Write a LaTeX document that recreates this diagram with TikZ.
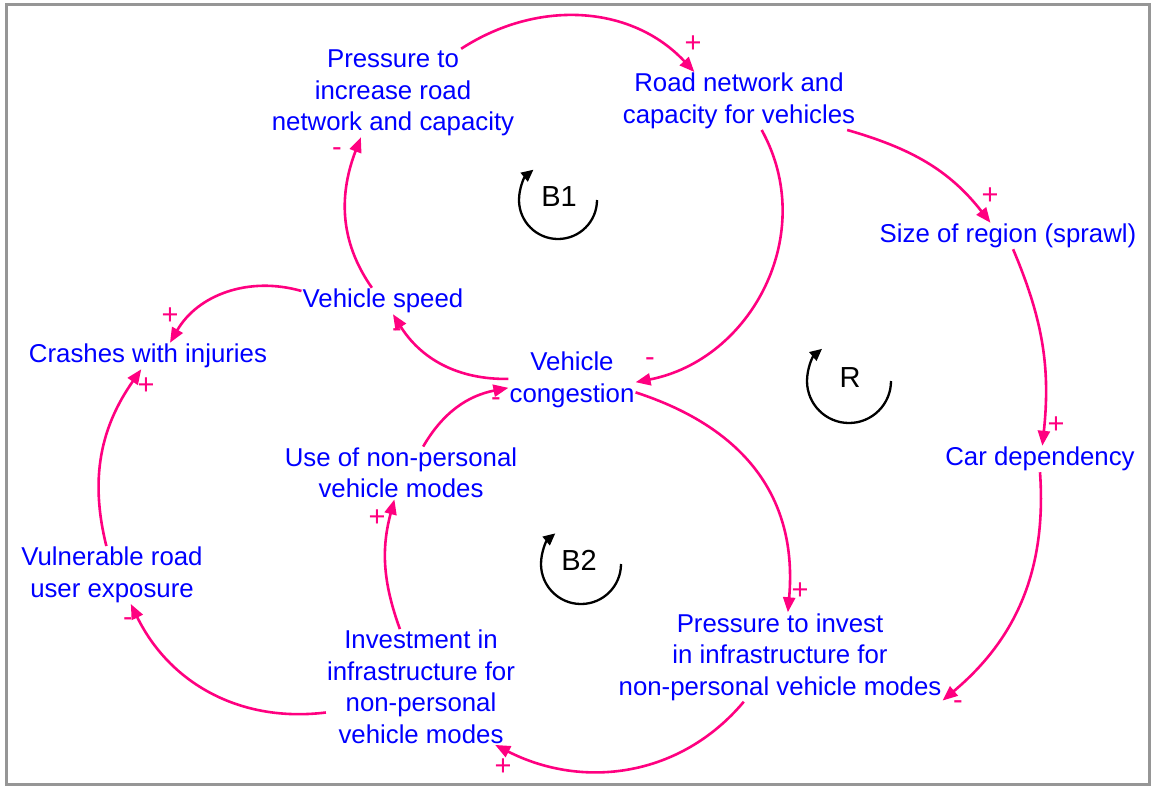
\documentclass[tikz,border=0pt]{standalone}
\usepackage{fontspec}
\setmainfont{Liberation Sans}
\usetikzlibrary{arrows.meta}
\definecolor{pinkc}{RGB}{255,0,128}
\definecolor{bluec}{RGB}{0,0,255}
\definecolor{framec}{RGB}{150,150,150}
\tikzset{
  var/.style={text=bluec, align=center, inner sep=1pt, yshift=-3pt, font=\fontsize{25.8}{31.5}\selectfont},
  link/.style={draw=pinkc, line width=2.6pt, -{Triangle[length=15pt,width=12pt]}},
  pol/.style={text=pinkc, inner sep=0pt, font=\fontsize{29}{29}\selectfont},
  looplbl/.style={text=black, inner sep=0pt, font=\fontsize{29}{31.5}\selectfont},
  looparc/.style={draw=black, line width=2.3pt, -{Triangle[length=12pt,width=11pt]}}
}
\begin{document}
\begin{tikzpicture}[x=1pt,y=1pt]
\useasboundingbox (0,0) rectangle (1153,-788);
\draw[framec, line width=3pt] (6,-4) rectangle (1149,-784);

% variables
\node[var] (pinc)  at (393,-90)  {Pressure to\\increase road\\network and capacity};
\node[var] (road)  at (739,-98)  {Road network and\\capacity for vehicles};
\node[var] (size)  at (1008,-233) {Size of region (sprawl)};
\node[var] (car)   at (1040,-456) {Car dependency};
\node[var] (pinv)  at (780,-654) {Pressure to invest\\in infrastructure for\\non-personal vehicle modes};
\node[var] (inv)   at (421,-684) {Investment in\\infrastructure for\\non-personal\\vehicle modes};
\node[var] (vul)   at (112,-572) {Vulnerable road\\user exposure};
\node[var] (use)   at (401,-470) {Use of non-personal\\vehicle modes};
\node[var] (cong)  at (572,-377) {Vehicle\\congestion};
\node[var] (speed) at (383,-298) {Vehicle speed};
\node[var] (crash) at (148,-353) {Crashes with injuries};

% links
\draw[link] (pinc.33) to[out=33,in=133] (road.147);
\draw[link] (road.-15) to[out=-16,in=128] (size.143);
\draw[link] (size.-69) to[out=-67,in=84] (car.80);
\draw[link] (car.-90) to[out=-86,in=40] (pinv.-15);
\draw[link] (road.-52) to[out=-61,in=11,looseness=1.07] (cong.-2);
\draw[link] (cong.-11) to[out=-18,in=85,looseness=1.1] (pinv.80);
\draw[link] (pinv.-129) to[out=-130,in=-27] (inv.-38);
\draw[link] (inv.110) to[out=110,in=-105] (use.-104);
\draw[link] (use.50) to[out=60,in=191] (cong.-173);
\draw[link] (cong.179) to[out=181,in=-58] (speed.-53);
\draw[link] (speed.130) to[out=125,in=-111] (pinc.-126);
\draw[link] (speed.173) to[out=164,in=60] (crash.31);
\draw[link] (vul.101) to[out=104,in=-125] (crash.-117);
\draw[link] (inv.-165) to[out=187,in=-64] (vul.-57);

% polarities
\node[pol] (p1)  at (693,-44)  {+};
\node[pol] (p2)  at (990,-196) {+};
\node[pol] (p3)  at (1056,-425) {+};
\node[pol] (p4)  at (958,-705) {-};
\node[pol] (p5)  at (650,-362) {-};
\node[pol] (p6)  at (800,-591) {+};
\node[pol] (p7)  at (503,-767) {+};
\node[pol] (p8)  at (377,-518) {+};
\node[pol] (p9)  at (496,-402) {-};
\node[pol] (p10) at (397,-333) {-};
\node[pol] (p11) at (337,-152) {-};
\node[pol] (p12) at (170,-316) {+};
\node[pol] (p13) at (146,-386) {+};
\node[pol] (p14) at (128,-622) {-};

% loop markers
\node[looplbl] (b1) at (559,-197) {B1};
\node[looplbl] (r)  at (850,-378) {R};
\node[looplbl] (b2) at (579,-560) {B2};
\draw[looparc] (b1.center) ++(38,-3) arc[start angle=0, end angle=-231, radius=39];
\draw[looparc] (r.center) ++(41,-3) arc[start angle=0, end angle=-230, radius=42];
\draw[looparc] (b2.center) ++(42,-4) arc[start angle=0, end angle=-230, radius=40];
\end{tikzpicture}
\end{document}
